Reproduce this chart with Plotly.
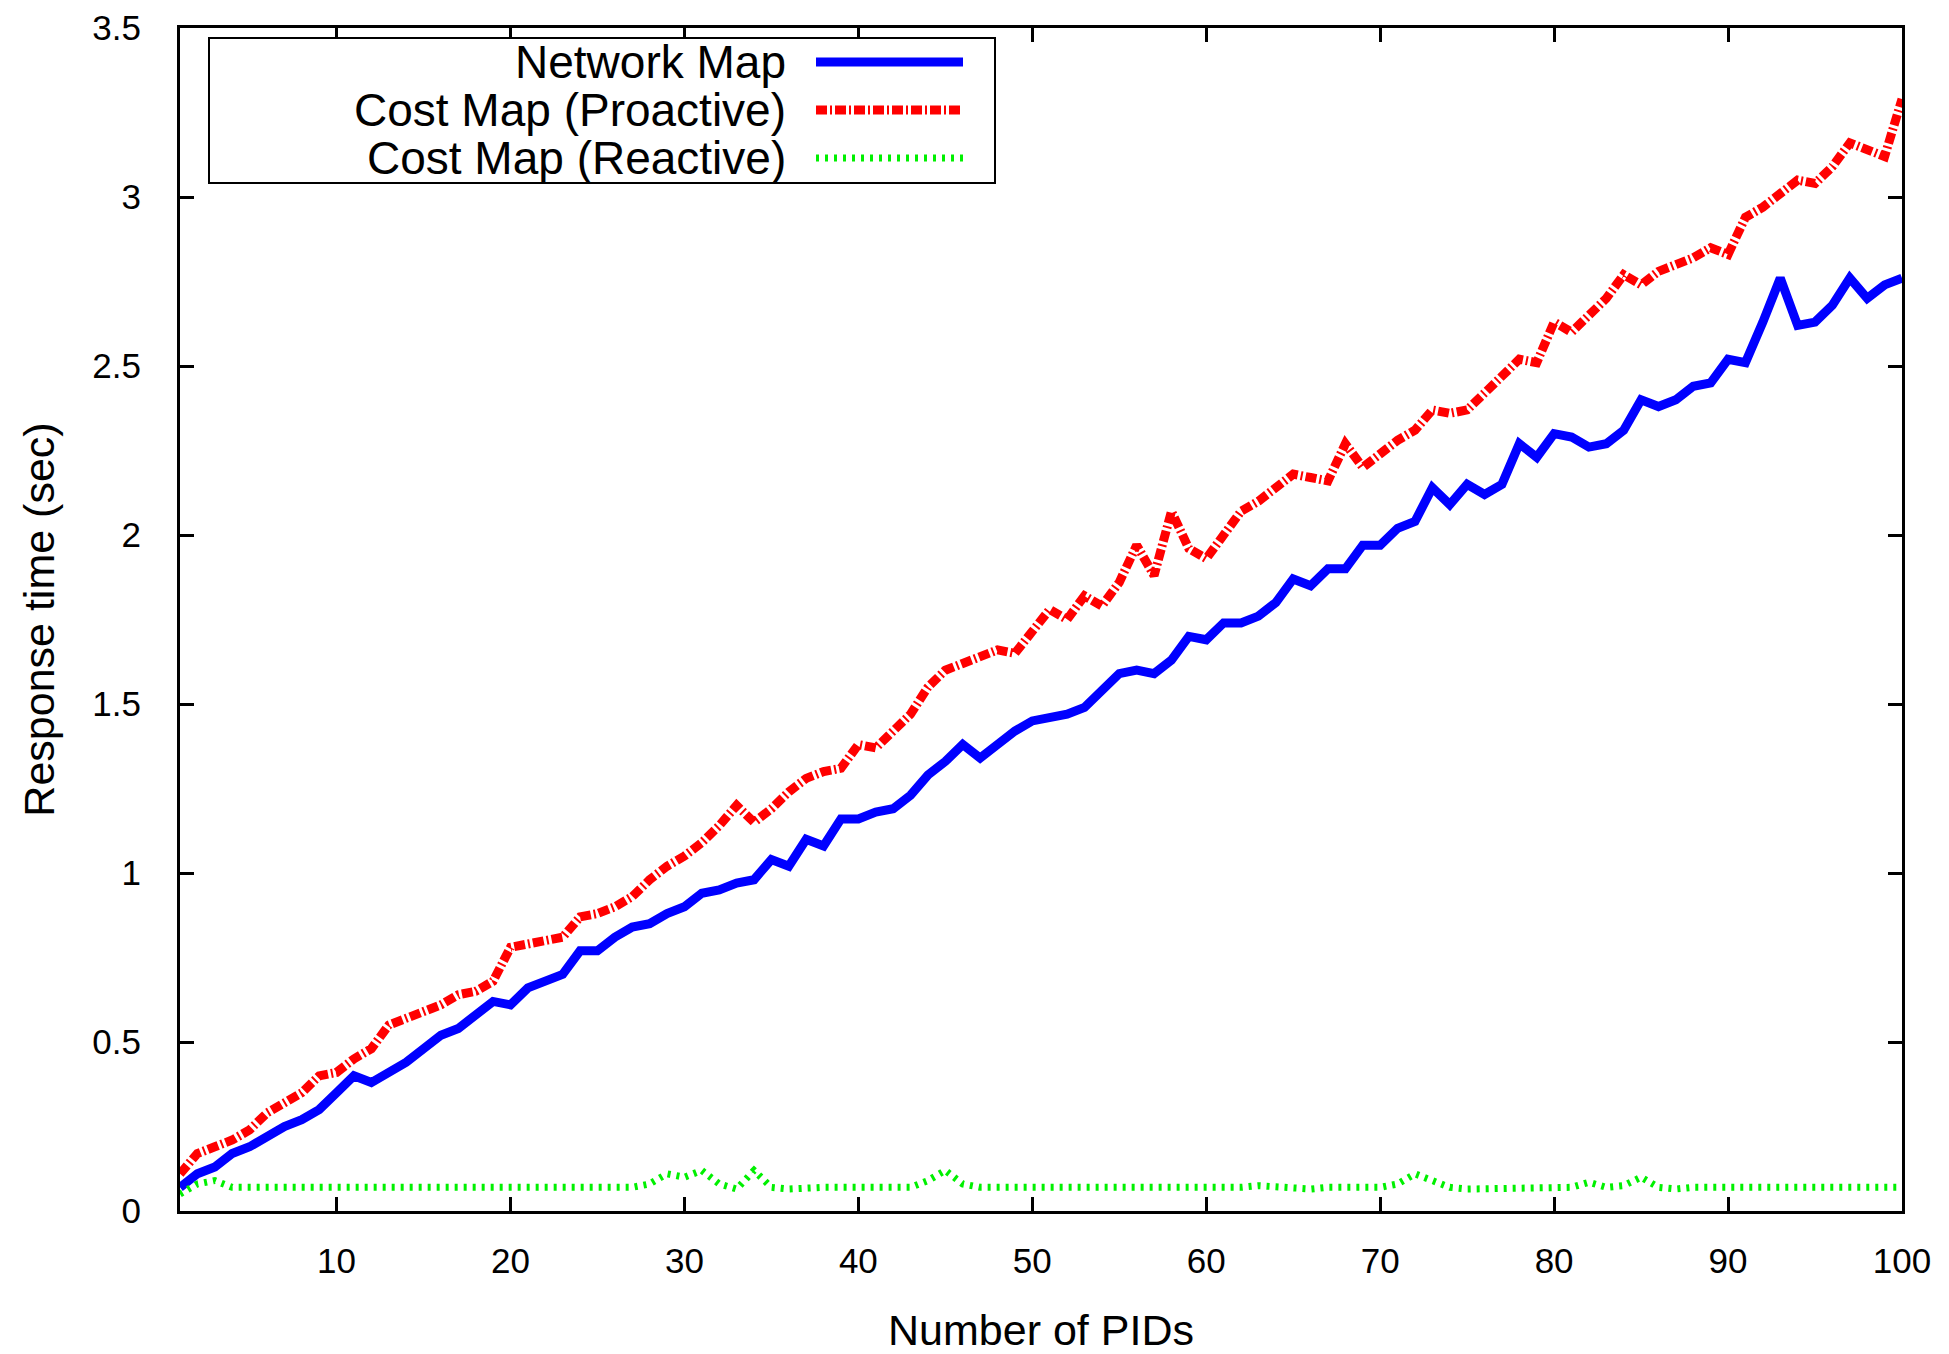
import plotly.graph_objects as go

# ---------------- data ----------------
pids = list(range(1, 101))

network_map = [0.07, 0.11, 0.13, 0.17, 0.19, 0.22, 0.25, 0.27, 0.30, 0.35,
               0.40, 0.38, 0.41, 0.44, 0.48, 0.52, 0.54, 0.58, 0.62, 0.61,
               0.66, 0.68, 0.70, 0.77, 0.77, 0.81, 0.84, 0.85, 0.88, 0.90,
               0.94, 0.95, 0.97, 0.98, 1.04, 1.02, 1.10, 1.08, 1.16, 1.16,
               1.18, 1.19, 1.23, 1.29, 1.33, 1.38, 1.34, 1.38, 1.42, 1.45,
               1.46, 1.47, 1.49, 1.54, 1.59, 1.60, 1.59, 1.63, 1.70, 1.69,
               1.74, 1.74, 1.76, 1.80, 1.87, 1.85, 1.90, 1.90, 1.97, 1.97,
               2.02, 2.04, 2.14, 2.09, 2.15, 2.12, 2.15, 2.27, 2.23, 2.30,
               2.29, 2.26, 2.27, 2.31, 2.40, 2.38, 2.40, 2.44, 2.45, 2.52,
               2.51, 2.63, 2.76, 2.62, 2.63, 2.68, 2.76, 2.70, 2.74, 2.76]

cost_map_proactive = [0.11, 0.17, 0.19, 0.21, 0.24, 0.29, 0.32, 0.35, 0.40, 0.41,
                      0.45, 0.48, 0.55, 0.57, 0.59, 0.61, 0.64, 0.65, 0.68, 0.78,
                      0.79, 0.80, 0.81, 0.87, 0.88, 0.90, 0.93, 0.98, 1.02, 1.05,
                      1.09, 1.14, 1.20, 1.15, 1.19, 1.24, 1.28, 1.30, 1.31, 1.38,
                      1.37, 1.42, 1.47, 1.55, 1.60, 1.62, 1.64, 1.66, 1.65, 1.72,
                      1.78, 1.75, 1.82, 1.79, 1.86, 1.97, 1.88, 2.07, 1.96, 1.93,
                      2.00, 2.07, 2.10, 2.14, 2.18, 2.17, 2.16, 2.27, 2.20, 2.24,
                      2.28, 2.31, 2.37, 2.36, 2.37, 2.42, 2.47, 2.52, 2.51, 2.63,
                      2.60, 2.65, 2.70, 2.77, 2.74, 2.78, 2.80, 2.82, 2.85, 2.83,
                      2.94, 2.97, 3.01, 3.05, 3.04, 3.09, 3.16, 3.14, 3.12, 3.29]

cost_map_reactive = [0.05, 0.08, 0.09, 0.07, 0.07, 0.07, 0.07, 0.07, 0.07, 0.07,
                     0.07, 0.07, 0.07, 0.07, 0.07, 0.065, 0.07, 0.07, 0.07, 0.07,
                     0.065, 0.07, 0.07, 0.07, 0.065, 0.065, 0.07, 0.08, 0.11, 0.10,
                     0.12, 0.08, 0.065, 0.12, 0.07, 0.065, 0.07, 0.07, 0.07, 0.07,
                     0.07, 0.07, 0.07, 0.09, 0.12, 0.08, 0.07, 0.07, 0.07, 0.07,
                     0.065, 0.07, 0.07, 0.07, 0.07, 0.07, 0.07, 0.07, 0.07, 0.07,
                     0.07, 0.07, 0.075, 0.07, 0.07, 0.065, 0.07, 0.07, 0.07, 0.07,
                     0.08, 0.11, 0.09, 0.07, 0.065, 0.065, 0.07, 0.07, 0.07, 0.07,
                     0.07, 0.085, 0.07, 0.075, 0.10, 0.07, 0.065, 0.07, 0.07, 0.07,
                     0.07, 0.07, 0.07, 0.07, 0.07, 0.07, 0.07, 0.07, 0.065, 0.07]

series_names = ["Network Map", "Cost Map (Proactive)", "Cost Map (Reactive)"]

x_tick_vals = [10, 20, 30, 40, 50, 60, 70, 80, 90, 100]
y_tick_vals = [0, 0.5, 1, 1.5, 2, 2.5, 3, 3.5]
y_tick_text = ["0", "0.5", "1", "1.5", "2", "2.5", "3", "3.5"]

# ---------------- style ----------------
FONT = "Liberation Sans, Arial, Helvetica, sans-serif"
styles = [
    dict(color="#0000ff", width=9, dash="solid"),
    dict(color="#ff0000", width=9, dash="11px,3px,2px,3px"),
    dict(color="#00f000", width=7, dash="3px,6px"),
]

fig = go.Figure()
for name, ys, st in zip(series_names, [network_map, cost_map_proactive, cost_map_reactive], styles):
    fig.add_trace(go.Scatter(x=pids, y=ys, mode="lines", name=name,
                             line=dict(color=st["color"], width=st["width"], dash=st["dash"]),
                             showlegend=False))

# ---------------- manual gnuplot-style legend ----------------
L, R, T, B = 180, 1902, 28, 1211
W_, H_ = R - L, B - T
def px(x):
    return (x - L) / W_
def py(y):
    return (B - y) / H_

fig.add_shape(type="rect", xref="paper", yref="paper",
              x0=px(209), x1=px(995), y0=py(183), y1=py(38),
              line=dict(color="black", width=2), fillcolor="white", layer="above")
rows = [62, 110, 158]
for name, st, ry in zip(series_names, styles, rows):
    fig.add_annotation(xref="paper", yref="paper", x=px(787), y=py(ry),
                       text=name, showarrow=False, xanchor="right", yanchor="middle",
                       borderpad=0,
                       font=dict(family=FONT, size=46, color="black"))
    fig.add_shape(type="line", xref="paper", yref="paper",
                  x0=px(816), x1=px(963), y0=py(ry), y1=py(ry),
                  line=dict(color=st["color"], width=st["width"], dash=st["dash"]),
                  layer="above")

axis_common = dict(showline=True, linecolor="black", linewidth=3, mirror="ticks",
                   ticks="inside", ticklen=14, tickwidth=3, tickcolor="black",
                   showgrid=False, zeroline=False,
                   tickfont=dict(family=FONT, size=35, color="black"))

fig.update_xaxes(range=[1, 100], tickvals=x_tick_vals, ticklabelstandoff=17,
                 title=dict(text="Number of PIDs", font=dict(family=FONT, size=43, color="black"),
                            standoff=49),
                 **axis_common)
fig.update_yaxes(range=[0, 3.5], tickvals=y_tick_vals, ticktext=y_tick_text,
                 ticklabelstandoff=29,
                 title=dict(text="Response time (sec)", font=dict(family=FONT, size=43, color="black"),
                            standoff=25),
                 **axis_common)

fig.update_layout(width=1949, height=1354,
                  margin=dict(l=L, r=1949 - R, t=T, b=1354 - B, autoexpand=False),
                  paper_bgcolor="white", plot_bgcolor="white",
                  font=dict(family=FONT, color="black"))

fig.write_html("out.html")
